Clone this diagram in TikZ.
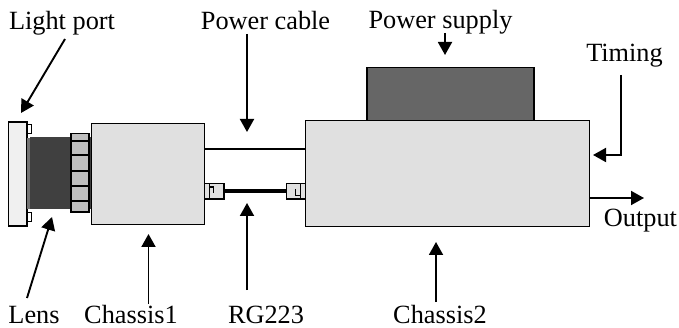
\documentclass[tikz,border=0pt]{standalone}
\usepackage{fontspec}
\setmainfont{Liberation Serif}
\usetikzlibrary{arrows.meta}
\definecolor{chassis}{HTML}{E0E0E0}
\tikzset{
 lbl/.style={inner sep=0pt,font=\fontsize{26.3}{30}\selectfont,text=black,anchor=base},
 box/.style={draw=black,line width=1.2pt,inner sep=0pt,outer sep=0pt,anchor=north west},
 arr/.style={line width=1.9pt,-{Triangle[length=13pt,width=14pt]}},
 part/.style={draw=black,line width=1.2pt}
}
\begin{document}
\begin{tikzpicture}[x=1pt,y=-1pt]
\useasboundingbox (0,0) rectangle (679,328);
% Light port plate
\filldraw[part,fill=white!94!black] (8.5,122) rectangle (27,226);
\filldraw[part,fill=white] (27,124.5) rectangle (31.5,133.5);
\filldraw[part,fill=white] (27,212.5) rectangle (31.5,221.5);
\fill[black!55] (27,138) rectangle (30,209);
% Lens
\fill[black!75] (30,137) rectangle (71,209.5);
\fill[black!75] (89,137) rectangle (92,209.5);
\filldraw[part,fill=black!25] (71,133.5) rectangle (89,212);
\foreach \yy in {141,155,171,186,201}{\draw[line width=1.2pt] (71,\yy) -- (89,\yy);}
% Chassis
\node[box,fill=chassis,minimum width=113pt,minimum height=101pt] (c1) at (91.7,123.5) {};
\node[box,fill=chassis,minimum width=284pt,minimum height=106pt] (c2) at (305.8,120.5) {};
\node[box,fill=black!60,minimum width=167pt,minimum height=53pt] (ps) at (367,67.5) {};
% Connectors
\node[box,fill=chassis,minimum width=19.5pt,minimum height=15.5pt] (cl) at (204.5,183.5) {};
\node[box,fill=chassis,minimum width=19.5pt,minimum height=15.5pt] (cr) at (286.3,183.5) {};
\draw[line width=1.2pt] (209.5,183.5) -- (209.5,199);
\draw[line width=1.2pt] (300.8,183.5) -- (300.8,199);
\draw[line width=1.8pt] (209.5,187) -- (213.5,187) -- (213.5,193);
\draw[line width=1.8pt] (295.5,189) -- (295.5,195.5) -- (300,195.5);
\draw[line width=2.2pt] (c1.east |- 0,149) -- (c2.west |- 0,149);
\draw[line width=4pt] (cl.east) -- (cr.west);
% Labels
\node[lbl] (t1) at (62,29.5) {Light port};
\node[lbl] (t2) at (265.5,29.5) {Power cable};
\node[lbl] (t3) at (440.5,28.5) {Power supply};
\node[lbl] (t4) at (624.5,61.5) {Timing};
\node[lbl] (t5) at (640.5,226.5) {Output};
\node[lbl] (t6) at (34,323.5) {Lens};
\node[lbl] (t7) at (131,323.5) {Chassis1};
\node[lbl] (t8) at (266,323.5) {RG223};
\node[lbl] (t9) at (440,323.5) {Chassis2};
% Arrows
\coordinate (a1s) at (65,39); \coordinate (a1e) at (21,113);
\draw[arr] (a1s) -- (a1e);
\coordinate (a2s) at (247,34); \coordinate (a2e) at (247,132);
\draw[arr] (a2s) -- (a2e);
\coordinate (a3s) at (445,33); \coordinate (a3e) at (445,55);
\draw[arr] (a3s) -- (a3e);
\coordinate (a4s) at (621,75); \coordinate (a4c) at (621,155); \coordinate (a4e) at (593,155);
\draw[arr] (a4s) -- (a4c) -- (a4e);
\coordinate (a5e) at (644,198);
\draw[arr] (c2.east |- a5e) -- (a5e);
\coordinate (a6s) at (27,298); \coordinate (a6e) at (52,217);
\draw[arr] (a6s) -- (a6e);
\coordinate (a7s) at (148.5,304); \coordinate (a7e) at (148.5,234);
\draw[arr] (a7s) -- (a7e);
\coordinate (a8s) at (247,290); \coordinate (a8e) at (247,203);
\draw[arr] (a8s) -- (a8e);
\coordinate (a9s) at (436,302); \coordinate (a9e) at (436,242);
\draw[arr] (a9s) -- (a9e);
\end{tikzpicture}
\end{document}
